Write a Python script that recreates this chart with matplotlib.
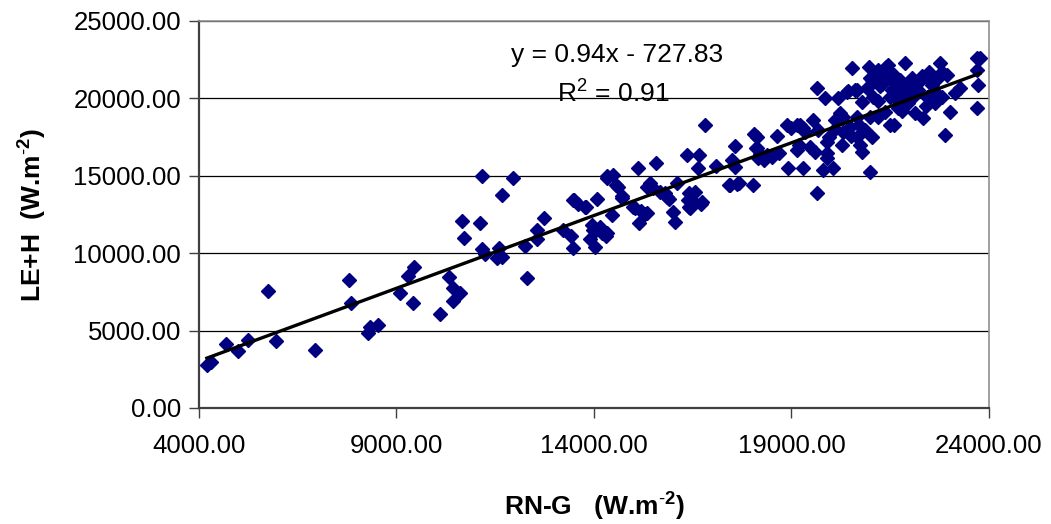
import numpy as np
import matplotlib
matplotlib.use("Agg")
import matplotlib.pyplot as plt

plt.rcParams['font.family'] = ['Liberation Sans', 'DejaVu Sans']
plt.rcParams['mathtext.fontset'] = 'custom'
plt.rcParams['mathtext.rm'] = 'Liberation Sans'
plt.rcParams['mathtext.bf'] = 'Liberation Sans:bold'

# RN-G vs LE+H
rn_g = [
    4200, 4300, 4680, 4990, 5240, 5740, 5940, 6940, 7800, 7840, 8290, 8330, 8520,
    9090, 9280, 9440, 9430, 10100, 10340, 10440, 10440, 10620, 10650, 10720, 11110,
    11160, 11160, 11240, 11540, 11600, 11660, 11680, 11960, 12250, 12310, 12550,
    12550, 12730, 13220, 13410, 13460, 13490, 13600, 13770, 13810, 14070, 13980,
    14030, 14150, 14320, 14320, 14490, 14450, 14620, 14700, 15000, 15120, 15150,
    15330, 15420, 15570, 15670, 15860, 16010, 16050, 16090, 16350, 16390, 16430,
    16560, 16640, 16670, 16730, 16810, 17090, 17430, 17490, 17570, 17570, 17680,
    18030, 18050, 18120, 18130, 18160, 18370, 18640, 18690, 18880, 18920, 19130,
    19210, 19300, 19340, 19470, 19550, 19590, 19640, 19640, 19680, 19810, 19850,
    19890, 19940, 20060, 20100, 20190, 20230, 20270, 20310, 20400, 20480, 20520,
    20610, 20650, 20650, 20730, 20780, 20780, 20860, 20950, 20990, 21030, 21030,
    21070, 21110, 21200, 21240, 21320, 21370, 21450, 21490, 21490, 21540, 21620,
    21660, 21700, 21750, 21830, 21870, 21920, 21960, 22040, 22080, 22130, 22210,
    22300, 22340, 22420, 22470, 22550, 22630, 22720, 22760, 22800, 22890, 22930,
    23010, 23140, 23270, 23690, 23770, 23690, 23710, 23690,
    15350, 15500, 15800, 15900, 15040, 15200, 15300, 16400, 16500, 16400, 16700,
    17440, 17620, 18100, 18200, 18300, 18500, 13480, 13950, 14050, 14200, 14300,
    13900, 14330, 14560, 14700, 20440, 20650, 21000, 21200, 21400, 21600, 20900,
    21300, 21600, 21000, 21600, 19150, 19300, 19000, 20100, 20300, 20500, 20700,
    19200, 19900, 19900, 22200, 22000, 22500, 22800, 21800, 22400, 21500, 21200,
    22600,
]
le_h = [
    2800, 3000, 4130, 3680, 4390, 7560, 4350, 3750, 8270, 6800, 4820, 5230, 5360,
    7410, 8530, 9130, 6760, 6070, 8480, 7730, 6910, 7410, 12080, 10960, 11930,
    14990, 10250, 9950, 9670, 10320, 9780, 13760, 14880, 10470, 8400, 11500,
    10900, 12270, 11500, 11110, 10320, 13440, 13180, 13000, 13000, 13500, 11500,
    10420, 11710, 11300, 14840, 15050, 12470, 14300, 13550, 13000, 15480, 11970,
    12580, 14510, 15850, 13970, 13610, 12680, 12040, 14550, 16340, 13440, 12900,
    13970, 15480, 16340, 13290, 18280, 15650, 14410, 16020, 16950, 15590, 14510,
    14410, 17700, 16770, 17530, 16130, 16340, 17570, 16450, 18280, 15480, 16670,
    18280, 15480, 17850, 16880, 18600, 16560, 13870, 20650, 17960, 15370, 20010,
    16130, 17530, 15480, 18600, 20010, 19040, 16990, 17850, 20430, 18170, 21940,
    20540, 17530, 18820, 16990, 16560, 19790, 17960, 22050, 15270, 17530, 21190,
    20110, 21510, 18820, 20780, 21190, 19150, 22160, 21730, 18280, 20540, 20980,
    19900, 19360, 21190, 20350, 22290, 20780, 19680, 21300, 20110, 19040, 20540,
    21430, 18710, 20110, 21730, 20870, 19680, 21300, 22290, 20110, 17640, 21510,
    19150, 20350, 20650, 22590, 22590, 21830, 20870, 19360,
    14300, 14200, 13900, 13500, 12950, 12750, 12500, 13900, 13400, 13000, 13200,
    14400, 14500, 16800, 16400, 16000, 16200, 13440, 11800, 11500, 11300, 11100,
    10900, 15000, 14400, 13700, 20450, 20510, 21300, 21800, 22000, 21500, 20700,
    20900, 20700, 18800, 18300, 18300, 18100, 18100, 18000, 18800, 17600, 18300,
    17000, 17200, 16500, 21000, 20500, 21200, 21700, 19200, 19500, 20100, 19800,
    20500,
]

# trendline as printed on the chart
slope = 0.94
intercept = -727.83
eq_text = "y = 0.94x - 727.83"
r2_text = r"R$^2$ = 0.91"

fig = plt.figure(figsize=(10.51, 5.24), dpi=100)
ax = fig.add_axes([0.1893, 0.2214, 0.7517, 0.7386])

x = np.array(rn_g)
y = np.array(le_h)
ax.plot(x, y, linestyle="none", marker="D", ms=7.2, color="#000080",
        markeredgecolor="#000080", zorder=3)

xl = np.array([x.min(), x.max()])
ax.plot(xl, slope * xl + intercept, color="black", lw=2.4, zorder=4)

ax.set_xlim(4000, 24000)
ax.set_ylim(0, 25000)
ax.set_xticks(np.arange(4000, 24001, 5000))
ax.set_yticks(np.arange(0, 25001, 5000))
ax.xaxis.set_major_formatter(matplotlib.ticker.FormatStrFormatter("%.2f"))
ax.yaxis.set_major_formatter(matplotlib.ticker.FormatStrFormatter("%.2f"))
ax.tick_params(axis="both", direction="out", length=7, width=1, color="#404040",
               labelsize=18.5, pad=6)
ax.tick_params(axis="x", pad=12)

ax.grid(axis="y", color="black", lw=0.9, zorder=1)
ax.set_axisbelow(True)
for side in ("top", "right"):
    ax.spines[side].set_color("#909090")
    ax.spines[side].set_linewidth(1.2)
for side in ("left", "bottom"):
    ax.spines[side].set_color("#404040")
    ax.spines[side].set_linewidth(1.6)

ax.set_xlabel(r"RN-G   (W.m$^{\text{-}\mathbf{2}}$)", fontsize=19, fontweight="bold",
              labelpad=22)
ax.set_ylabel(r"LE+H  (W.m$^{\text{-}\mathbf{2}}$)", fontsize=19, fontweight="bold",
              labelpad=18)

ax.text(0.529, 0.912, eq_text, transform=ax.transAxes, ha="center", va="center",
        fontsize=19)
ax.text(0.524, 0.815, r2_text, transform=ax.transAxes, ha="center", va="center",
        fontsize=19)

fig.savefig("out.png", dpi=100)
